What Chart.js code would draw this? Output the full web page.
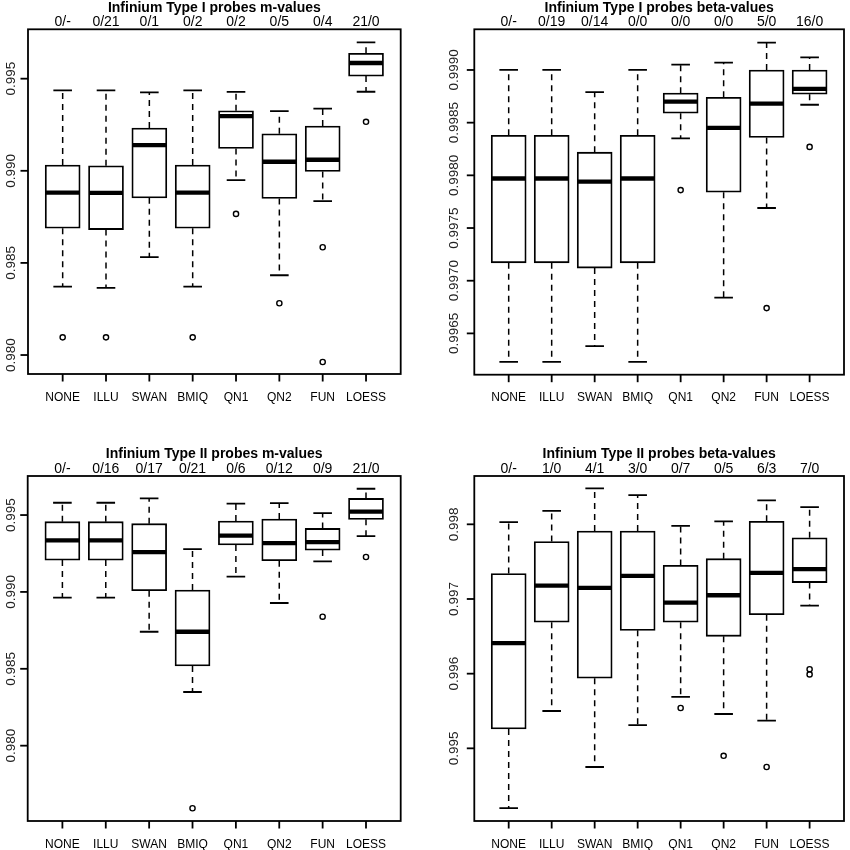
<!DOCTYPE html>
<html>
<head>
<meta charset="utf-8">
<script src="https://cdn.jsdelivr.net/npm/chart.js@4.4.1/dist/chart.umd.min.js"></script>
<style>
  body { margin: 0; background: #fff; }
  .cell { position: absolute; width: 425px; height: 425px; }
</style>
</head>
<body>
<div class="cell" style="left:0;top:0"><canvas id="c1" width="425" height="425"></canvas></div>
<div class="cell" style="left:425px;top:0"><canvas id="c2" width="425" height="425"></canvas></div>
<div class="cell" style="left:0;top:425px"><canvas id="c3" width="425" height="425"></canvas></div>
<div class="cell" style="left:425px;top:425px"><canvas id="c4" width="425" height="425"></canvas></div>
<script>
var methods = ['NONE', 'ILLU', 'SWAN', 'BMIQ', 'QN1', 'QN2', 'FUN', 'LOESS'];

// Type I, m-values
var t1mLow  = [0.98371, 0.98364, 0.98531, 0.98371, 0.98949, 0.98433, 0.98835, 0.99429];
var t1mQ1   = [0.98688, 0.98681, 0.98853, 0.98688, 0.99121, 0.98850, 0.98996, 0.99514];
var t1mMed  = [0.98882, 0.98880, 0.99139, 0.98882, 0.99297, 0.99049, 0.99060, 0.99585];
var t1mQ3   = [0.99031, 0.99027, 0.99232, 0.99031, 0.99326, 0.99201, 0.99243, 0.99638];
var t1mHigh = [0.99437, 0.99437, 0.99426, 0.99437, 0.99428, 0.99324, 0.99337, 0.99697];
var t1mOut  = [[0.98096], [0.98096], [], [0.98096], [0.98766], [0.98281], [0.98585, 0.97962], [0.99266]];
var t1mCounts = ['0/-', '0/21', '0/1', '0/2', '0/2', '0/5', '0/4', '21/0'];
var t1mTicks = [0.980, 0.985, 0.990, 0.995];

// Type I, beta-values
var t1bLow  = [0.99623, 0.99623, 0.99638, 0.99623, 0.99835, 0.99684, 0.99769, 0.99867];
var t1bQ1   = [0.99717, 0.99717, 0.99712, 0.99717, 0.99859, 0.99784, 0.99836, 0.99877];
var t1bMed  = [0.99797, 0.99797, 0.99794, 0.99797, 0.99870, 0.99845, 0.99868, 0.99882];
var t1bQ3   = [0.99838, 0.99838, 0.99822, 0.99838, 0.99878, 0.99874, 0.99900, 0.99900];
var t1bHigh = [0.99900, 0.99900, 0.99879, 0.99900, 0.99905, 0.99907, 0.99926, 0.99912];
var t1bOut  = [[], [], [], [], [0.99786], [], [0.99674], [0.99827]];
var t1bCounts = ['0/-', '0/19', '0/14', '0/0', '0/0', '0/0', '5/0', '16/0'];
var t1bTicks = [0.9965, 0.9970, 0.9975, 0.9980, 0.9985, 0.9990];

// Type II, m-values
var t2mLow  = [0.98963, 0.98963, 0.98741, 0.98349, 0.99099, 0.98928, 0.99199, 0.99363];
var t2mQ1   = [0.99207, 0.99207, 0.99008, 0.98518, 0.99305, 0.99203, 0.99272, 0.99472];
var t2mMed  = [0.99335, 0.99335, 0.99259, 0.98741, 0.99366, 0.99318, 0.99324, 0.99522];
var t2mQ3   = [0.99457, 0.99457, 0.99444, 0.99012, 0.99461, 0.99474, 0.99413, 0.99608];
var t2mHigh = [0.99580, 0.99580, 0.99608, 0.99279, 0.99574, 0.99578, 0.99513, 0.99671];
var t2mOut  = [[], [], [], [0.97593], [], [], [0.98839], [0.99227]];
var t2mCounts = ['0/-', '0/16', '0/17', '0/21', '0/6', '0/12', '0/9', '21/0'];
var t2mTicks = [0.980, 0.985, 0.990, 0.995];

// Type II, beta-values
var t2bLow  = [0.99420, 0.99550, 0.99475, 0.99531, 0.99569, 0.99546, 0.99537, 0.99691];
var t2bQ1   = [0.99526, 0.99669, 0.99594, 0.99658, 0.99669, 0.99650, 0.99679, 0.99722];
var t2bMed  = [0.99641, 0.99718, 0.99715, 0.99731, 0.99695, 0.99705, 0.99735, 0.99740];
var t2bQ3   = [0.99734, 0.99777, 0.99791, 0.99791, 0.99745, 0.99754, 0.99804, 0.99782];
var t2bHigh = [0.99803, 0.99818, 0.99848, 0.99839, 0.99798, 0.99804, 0.99832, 0.99823];
var t2bOut  = [[], [], [], [], [0.99554], [0.99490], [0.99475], [0.99606, 0.99599]];
var t2bCounts = ['0/-', '1/0', '4/1', '3/0', '0/7', '0/5', '6/3', '7/0'];
var t2bTicks = [0.995, 0.996, 0.997, 0.998];

var FONT = "'Liberation Sans', Arial, Helvetica, sans-serif";

// whiskers, staples, medians, frame, tick marks and the text around each panel
var boxPlugin = {
    id: 'rbox',
    beforeDatasetsDraw: function(chart) {
        var p = chart.options.plugins.rbox, x = chart.scales.x, y = chart.scales.y, ctx = chart.ctx;
        ctx.save();
        ctx.strokeStyle = '#000';
        for (var i = 0; i < methods.length; i++) {
            var px = x.getPixelForValue(i + 1);
            ctx.lineWidth = 1.5;
            ctx.setLineDash([6, 5]);
            ctx.beginPath();
            ctx.moveTo(px, y.getPixelForValue(p.q3[i]));
            ctx.lineTo(px, y.getPixelForValue(p.high[i]));
            ctx.moveTo(px, y.getPixelForValue(p.q1[i]));
            ctx.lineTo(px, y.getPixelForValue(p.low[i]));
            ctx.stroke();
            ctx.setLineDash([]);
            ctx.lineWidth = 1.8;
            ctx.beginPath();
            ctx.moveTo(px - 9.3, y.getPixelForValue(p.high[i]));
            ctx.lineTo(px + 9.3, y.getPixelForValue(p.high[i]));
            ctx.moveTo(px - 9.3, y.getPixelForValue(p.low[i]));
            ctx.lineTo(px + 9.3, y.getPixelForValue(p.low[i]));
            ctx.stroke();
        }
        ctx.restore();
    },
    afterDatasetsDraw: function(chart) {
        var p = chart.options.plugins.rbox, x = chart.scales.x, y = chart.scales.y, ctx = chart.ctx;
        ctx.save();
        ctx.strokeStyle = '#000';
        ctx.lineWidth = 4.3;
        for (var i = 0; i < methods.length; i++) {
            var px = x.getPixelForValue(i + 1);
            var py = y.getPixelForValue(p.med[i]);
            ctx.beginPath();
            ctx.moveTo(px - 17, py);
            ctx.lineTo(px + 17, py);
            ctx.stroke();
        }
        ctx.restore();
    },
    afterDraw: function(chart) {
        var p = chart.options.plugins.rbox, a = chart.chartArea, x = chart.scales.x, y = chart.scales.y, ctx = chart.ctx;
        ctx.save();
        ctx.setLineDash([]);
        ctx.strokeStyle = '#000';
        ctx.fillStyle = '#000';
        ctx.lineWidth = 1.8;
        ctx.strokeRect(a.left, a.top, a.right - a.left, a.bottom - a.top);

        // R style tick marks outside the frame
        for (var k = 0; k < methods.length; k++) {
            var tx = x.getPixelForValue(k + 1);
            ctx.fillRect(tx - 0.9, a.bottom, 1.8, 7.5);
        }
        for (var j = 0; j < p.yticks.length; j++) {
            var ty = y.getPixelForValue(p.yticks[j]);
            ctx.fillRect(a.left - 7.5, ty - 0.9, 7.5, 1.8);
        }

        ctx.textAlign = 'center';
        ctx.textBaseline = 'middle';
        ctx.font = 'bold 14px ' + FONT;
        ctx.fillText(p.title, (a.left + a.right) / 2, a.top - 21.5);
        ctx.font = '14px ' + FONT;
        for (var i = 0; i < methods.length; i++) {
            ctx.fillText(p.counts[i], x.getPixelForValue(i + 1), a.top - 7);
        }
        ctx.fillStyle = '#222';
        ctx.font = '13.5px ' + FONT;
        for (var m = 0; m < p.yticks.length; m++) {
            ctx.save();
            ctx.translate(p.labelX, y.getPixelForValue(p.yticks[m]));
            ctx.rotate(-Math.PI / 2);
            ctx.fillText(p.yticks[m].toFixed(p.digits), 0, 0);
            ctx.restore();
        }
        ctx.restore();
    }
};

function makePanel(id, title, low, q1, med, q3, high, out, counts, ticks, yMin, yMax, digits, area, labelX) {
    var boxes = [], points = [];
    for (var i = 0; i < methods.length; i++) {
        boxes.push({x: i + 1, y: [q1[i], q3[i]]});
        out[i].forEach(function(v) { points.push({x: i + 1, y: v}); });
    }
    return new Chart(document.getElementById(id), {
        type: 'bar',
        data: {
            datasets: [{
                type: 'bar',
                data: boxes,
                backgroundColor: '#fff',
                borderColor: '#000',
                borderWidth: 1.8,
                borderSkipped: false,
                barThickness: 35
            }, {
                type: 'scatter',
                data: points,
                pointStyle: 'circle',
                pointRadius: 2.6,
                pointBorderWidth: 1.4,
                pointBorderColor: '#000',
                pointBackgroundColor: 'rgba(0,0,0,0)'
            }]
        },
        options: {
            responsive: false,
            animation: false,
            layout: {
                padding: {left: 0, top: area.t, right: 425 - area.r, bottom: 0}
            },
            plugins: {
                legend: {display: false},
                tooltip: {enabled: false},
                rbox: {
                    title: title, low: low, q1: q1, med: med, q3: q3, high: high,
                    counts: counts, yticks: ticks, digits: digits, labelX: labelX
                }
            },
            scales: {
                x: {
                    type: 'linear',
                    min: 0.2,
                    max: 8.8,
                    offset: false,
                    afterBuildTicks: function(s) {
                        s.ticks = methods.map(function(m, i) { return {value: i + 1}; });
                    },
                    afterFit: function(s) { s.height = 425 - area.b; },
                    border: {display: false},
                    grid: {display: false},
                    ticks: {
                        autoSkip: false,
                        maxRotation: 0,
                        padding: 8,
                        color: '#000',
                        font: {family: FONT, size: 12},
                        callback: function(v) { return methods[v - 1]; }
                    }
                },
                y: {
                    type: 'linear',
                    min: yMin,
                    max: yMax,
                    afterBuildTicks: function(s) {
                        s.ticks = ticks.map(function(v) { return {value: v}; });
                    },
                    afterFit: function(s) { s.width = area.l; },
                    border: {display: false},
                    grid: {display: false},
                    ticks: {display: false}
                }
            }
        },
        plugins: [boxPlugin]
    });
}

makePanel('c1', 'Infinium Type I probes m-values', t1mLow, t1mQ1, t1mMed, t1mQ3, t1mHigh, t1mOut, t1mCounts, t1mTicks,
    0.97897, 0.99768, 3, {l: 28, r: 400.7, t: 29.3, b: 374}, 11.5);
makePanel('c2', 'Infinium Type I probes beta-values', t1bLow, t1bQ1, t1bMed, t1bQ3, t1bHigh, t1bOut, t1bCounts, t1bTicks,
    0.996108, 0.999386, 4, {l: 49.3, r: 419, t: 29.3, b: 374.7}, 29.3);
makePanel('c3', 'Infinium Type II probes m-values', t2mLow, t2mQ1, t2mMed, t2mQ3, t2mHigh, t2mOut, t2mCounts, t2mTicks,
    0.97510, 0.99754, 3, {l: 27.7, r: 400.7, t: 51, b: 396}, 11.5);
makePanel('c4', 'Infinium Type II probes beta-values', t2bLow, t2bQ1, t2bMed, t2bQ3, t2bHigh, t2bOut, t2bCounts, t2bTicks,
    0.994027, 0.998647, 3, {l: 49.3, r: 419, t: 51, b: 396}, 29.3);
</script>
</body>
</html>
